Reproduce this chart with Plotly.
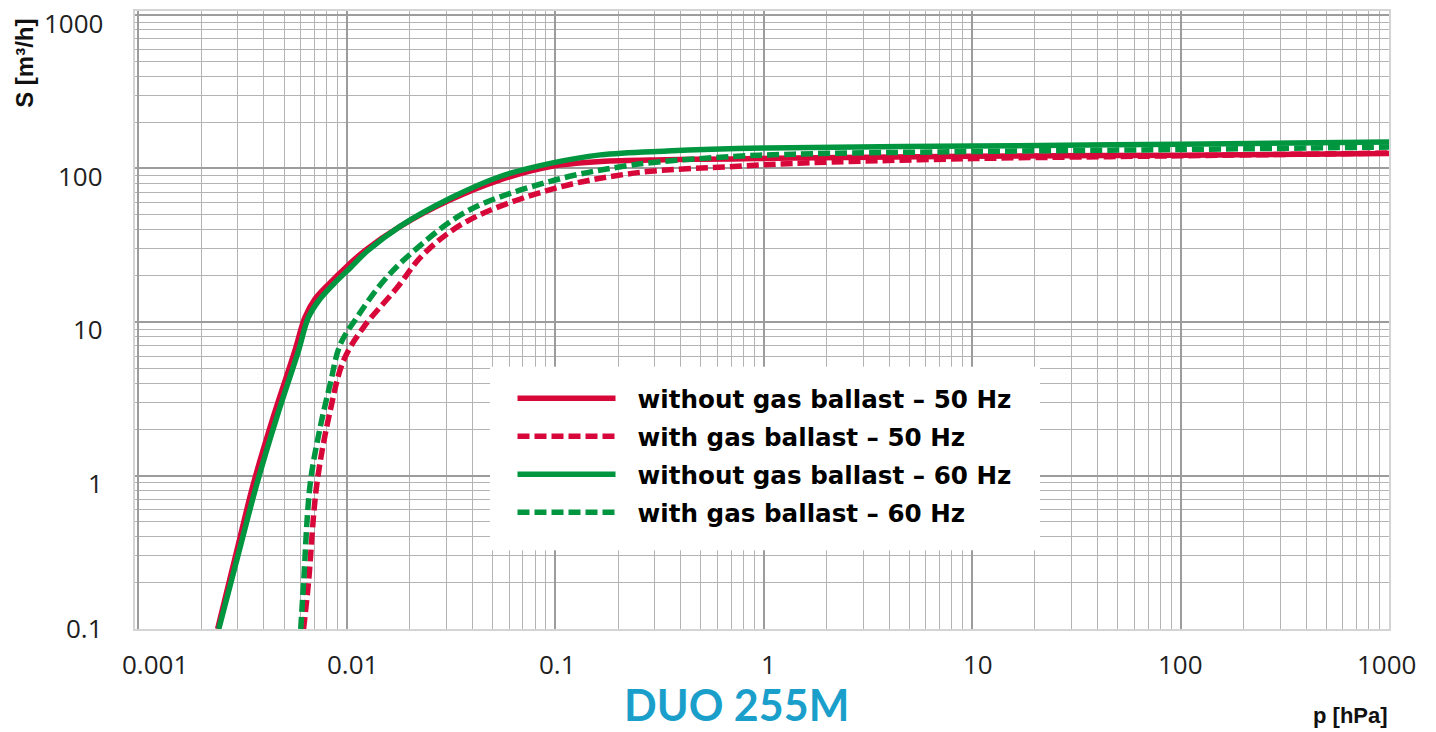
import math
import plotly.graph_objects as go

# ---------------- data ----------------
x_ticks = [0.001, 0.01, 0.1, 1, 10, 100, 1000]
x_tick_labels = ["0.001", "0.01", "0.1", "1", "10", "100", "1000"]
y_ticks = [0.1, 1, 10, 100, 1000]
y_tick_labels = ["0.1", "1", "10", "100", "1000"]

series_names = [
    "without gas ballast – 50 Hz",
    "with gas ballast – 50 Hz",
    "without gas ballast – 60 Hz",
    "with gas ballast – 60 Hz",
]

# 50 Hz, without gas ballast
p_red_solid = [0.00240, 0.00297, 0.00356, 0.00443, 0.00563, 0.00629, 0.00700, 0.00830, 0.0100, 0.0122, 0.0178, 0.031, 0.054, 0.095, 0.165, 0.34, 0.72, 1.4, 10, 100, 1000]
s_red_solid = [0.1, 0.326, 0.88, 2.39, 6.49, 10.7, 14.0, 18.0, 23.0, 29.2, 41.5, 62, 84, 103, 111, 114, 115.5, 117, 120, 122, 125]

# 50 Hz, with gas ballast
p_red_dash = [0.0062, 0.00654, 0.00718, 0.00832, 0.00964, 0.0120, 0.0174, 0.0233, 0.0377, 0.0946, 0.238, 0.718, 1.39, 10, 100, 1000]
s_red_dash = [0.1, 0.198, 0.88, 2.64, 5.6, 9.2, 16.7, 27.6, 45.3, 72.8, 93.3, 103, 108, 116, 121, 126]

# 60 Hz, without gas ballast
p_green_solid = [0.00243, 0.00305, 0.0037, 0.00461, 0.00586, 0.00654, 0.00731, 0.00862, 0.01037, 0.0125, 0.018, 0.0313, 0.0544, 0.0946, 0.1645, 0.344, 1.04, 10, 100, 1000]
s_green_solid = [0.1, 0.326, 0.88, 2.39, 6.49, 10.7, 13.7, 17.6, 22.5, 28.9, 42, 64, 88.7, 108, 122.7, 130, 136, 140, 144, 149]

# 60 Hz, with gas ballast
p_green_dash = [0.00601, 0.0062, 0.00667, 0.00745, 0.00832, 0.0093, 0.01117, 0.0150, 0.0209, 0.0377, 0.0946, 0.238, 0.718, 1.39, 10, 100, 1000]
s_green_dash = [0.1, 0.198, 0.88, 2.06, 3.94, 7.14, 10.7, 18.5, 28.9, 52.6, 82.5, 105.7, 119.7, 124, 129, 133, 138]

# ---------------- geometry (page pixels) ----------------
W, H = 1436, 732
PL, PR, PT, PB = 135, 1389, 9, 629          # plot area in page pixels
L, R, T, B = PL, W - PR, PT, H - PB
pw, ph = W - L - R, H - T - B


def paper(px, py):
    """page pixel -> paper coordinates"""
    return (px - L) / pw, (H - B - py) / ph


RED = "#d8073a"
GREEN = "#009640"
DASH = "12px,5px"
LW = 5.5

fig = go.Figure()
traces = [
    (p_red_dash, s_red_dash, series_names[1], RED, DASH, 2),
    (p_red_solid, s_red_solid, series_names[0], RED, "solid", 1),
    (p_green_dash, s_green_dash, series_names[3], GREEN, DASH, 4),
    (p_green_solid, s_green_solid, series_names[2], GREEN, "solid", 3),
]
for px, sy, name, col, dash, rank in traces:
    fig.add_trace(go.Scatter(
        x=px, y=sy, mode="lines", name="\u00a0\u00a0" + name,
        line=dict(color=col, width=LW, dash=dash, shape="spline", smoothing=1.0),
        legendrank=rank, legendgroup=str(rank),
    ))

grid_minor = "#b3b3b3"
grid_major = "#9c9c9c"
x0 = -3.0 - 3.4 / 208.4
fig.update_xaxes(
    type="log", range=[x0, 3.0], showticklabels=False, ticks="",
    dtick=1, showgrid=True, gridcolor=grid_major, gridwidth=2.4,
    minor=dict(dtick="D1", showgrid=True, gridcolor=grid_minor, gridwidth=1.3, ticks=""),
    showline=True, linecolor="#d4d4d4", linewidth=2, mirror=True, zeroline=False,
)
fig.update_yaxes(
    type="log", range=[-1.0, 3.026], showticklabels=False, ticks="",
    dtick=1, showgrid=True, gridcolor=grid_major, gridwidth=1.6,
    minor=dict(dtick="D1", showgrid=True, gridcolor=grid_minor, gridwidth=1.3, ticks=""),
    showline=True, linecolor="#d4d4d4", linewidth=2, mirror=True, zeroline=False,
)

ann = []
tick_font = dict(family="Open Sans", size=26, color="#1e1e1e")
x_shift = [17, 6, 2, 5, 6, 0, -3]
for v, lab, sh in zip(x_ticks, x_tick_labels, x_shift):
    ann.append(dict(x=math.log10(v), y=0, xref="x", yref="paper", text=lab,
                    showarrow=False, xanchor="center", yanchor="middle", height=26,
                    xshift=sh, yshift=-35, font=tick_font))
y_shift = [1, -7, -7, -8, -8]
for v, lab, sh in zip(y_ticks, y_tick_labels, y_shift):
    ann.append(dict(x=0, y=math.log10(v), xref="paper", yref="y", text=lab,
                    showarrow=False, xanchor="right", yanchor="middle", height=26,
                    xshift=-30, yshift=sh, font=tick_font))

sx, sy_ = paper(25, 62)
ann.append(dict(x=sx, y=sy_, xref="paper", yref="paper", text="S [m³/h]", showarrow=False,
                textangle=-90, font=dict(family="Liberation Sans", size=24, color="#111", weight="bold"),
                xanchor="center", yanchor="middle"))
tx, ty = paper(736, 704)
ann.append(dict(x=tx, y=ty, xref="paper", yref="paper", text="DUO 255M", showarrow=False,
                font=dict(family="Lato", size=43, color="#1a9fcb", weight="bold"),
                xanchor="center", yanchor="middle", height=40))
qx, qy = paper(1350, 716)
ann.append(dict(x=qx, y=qy, xref="paper", yref="paper", text="p [hPa]", showarrow=False,
                font=dict(family="Liberation Sans", size=22, color="#111", weight="bold"),
                xanchor="center", yanchor="middle"))

# white legend panel
bx0, by0 = paper(490, 550)
bx1, by1 = paper(1040, 366)
shapes = [dict(type="rect", xref="paper", yref="paper", x0=bx0, y0=by0, x1=bx1, y1=by1,
               fillcolor="white", line=dict(width=0), layer="above")]

lx, ly = paper(512.5, 375)
fig.update_layout(
    width=W, height=H,
    margin=dict(l=L, r=R, t=T, b=B, pad=0),
    paper_bgcolor="white", plot_bgcolor="white",
    annotations=ann, shapes=shapes,
    showlegend=True,
    legend=dict(x=lx, y=ly, xanchor="left", yanchor="top", bgcolor="rgba(0,0,0,0)",
                borderwidth=0, itemwidth=98, tracegroupgap=3,
                font=dict(family="DejaVu Sans", size=24.6, color="#000", weight="bold")),
)

fig.write_html("out.html", config={"displayModeBar": False},
               post_script="document.body.style.margin='0px';document.body.style.overflow='hidden';")
